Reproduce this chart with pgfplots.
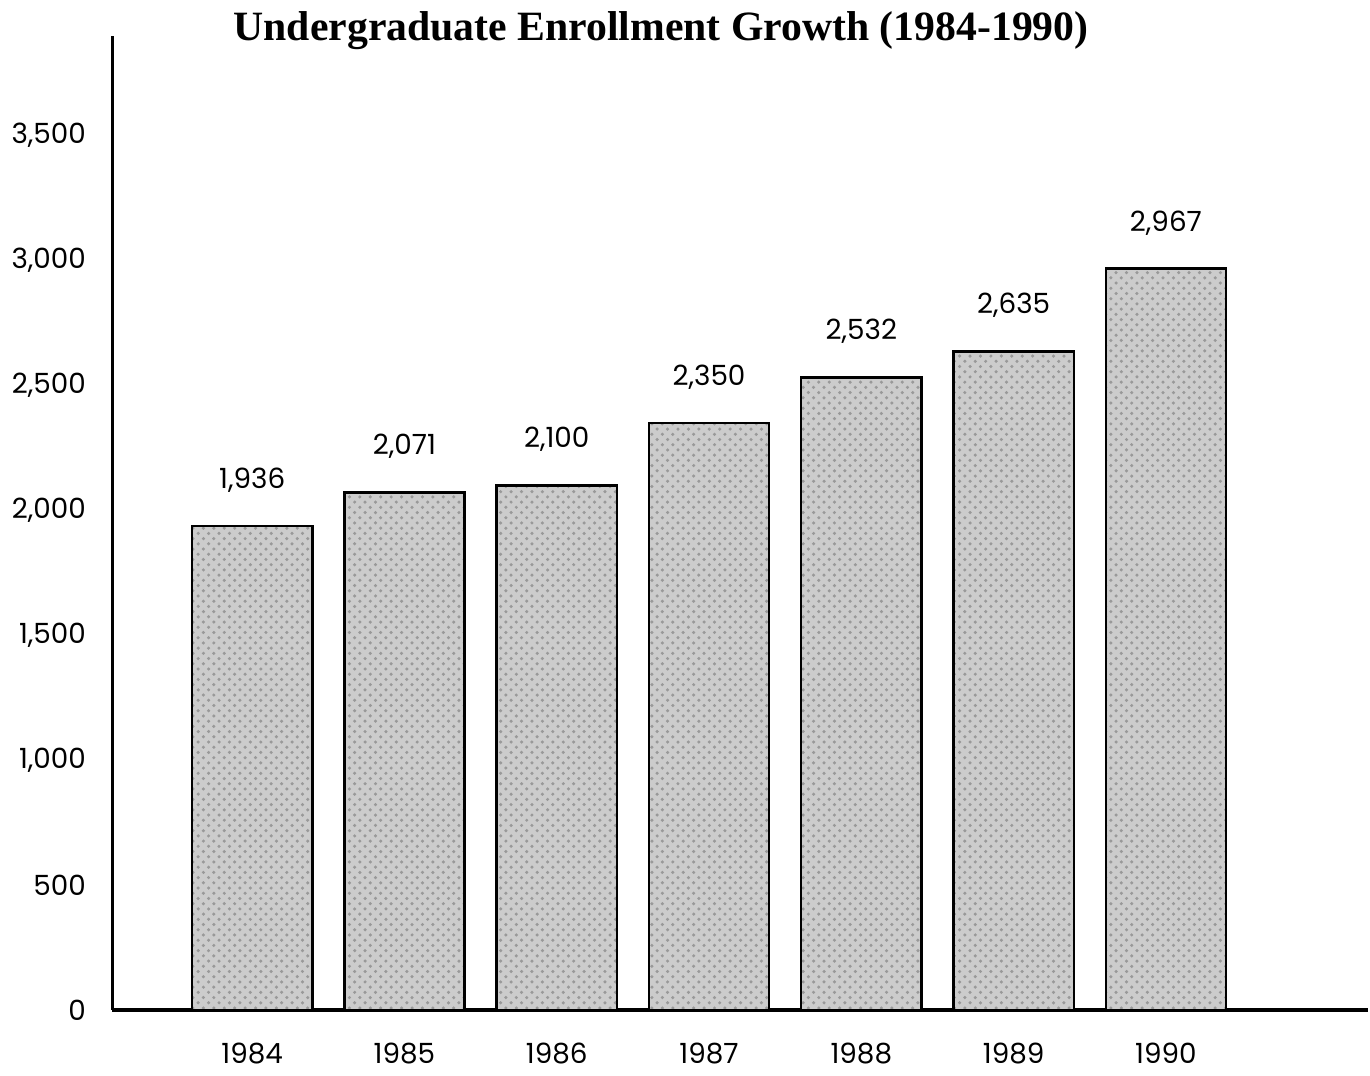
\documentclass[border=0pt]{standalone}
\usepackage{fontspec}
\usepackage{pgfplots}
\pgfplotsset{compat=1.18}
\usetikzlibrary{patterns}
\setmainfont{Poppins}
\newfontfamily\titlefont{Liberation Serif}

\pgfplotstableread{
x year value
0 1984 1936
1 1985 2071
2 1986 2100
3 1987 2350
4 1988 2532
5 1989 2635
6 1990 2967
}\enrollment

\begin{document}
\begin{tikzpicture}
\begin{axis}[
  scale only axis,
  width=12.7cm, height=9.85cm,
  xmin=-0.92, xmax=7.33,
  ymin=0, ymax=3900,
  axis x line=bottom, axis y line=left,
  axis line style={-, line width=0.9pt},
  major tick length=0pt,
  ytick={0,500,...,3500},
  xtick={0,...,6},
  xticklabels={1984,1985,1986,1987,1988,1989,1990},
  /pgf/number format/assume math mode=true,
  /pgf/number format/1000 sep={,},
  tick label style={font=\footnotesize},
  yticklabel style={xshift=-4pt},
  xticklabel style={yshift=-6pt},
  ybar, bar width=0.79,
  nodes near coords,
  every node near coord/.append style={font=\footnotesize, yshift=6pt,
    /pgf/number format/assume math mode=true, /pgf/number format/1000 sep={,}},
  clip=false,
]
\addplot[draw=black, line width=0.7pt, fill=black!20,
  postaction={pattern=crosshatch dots, pattern color=black!40}]
  table[x=x, y=value] {\enrollment};
\node[font=\titlefont\bfseries\large] at (rel axis cs:0.437,1.005)
  {Undergraduate Enrollment Growth (1984-1990)};
\end{axis}
\end{tikzpicture}
\end{document}
